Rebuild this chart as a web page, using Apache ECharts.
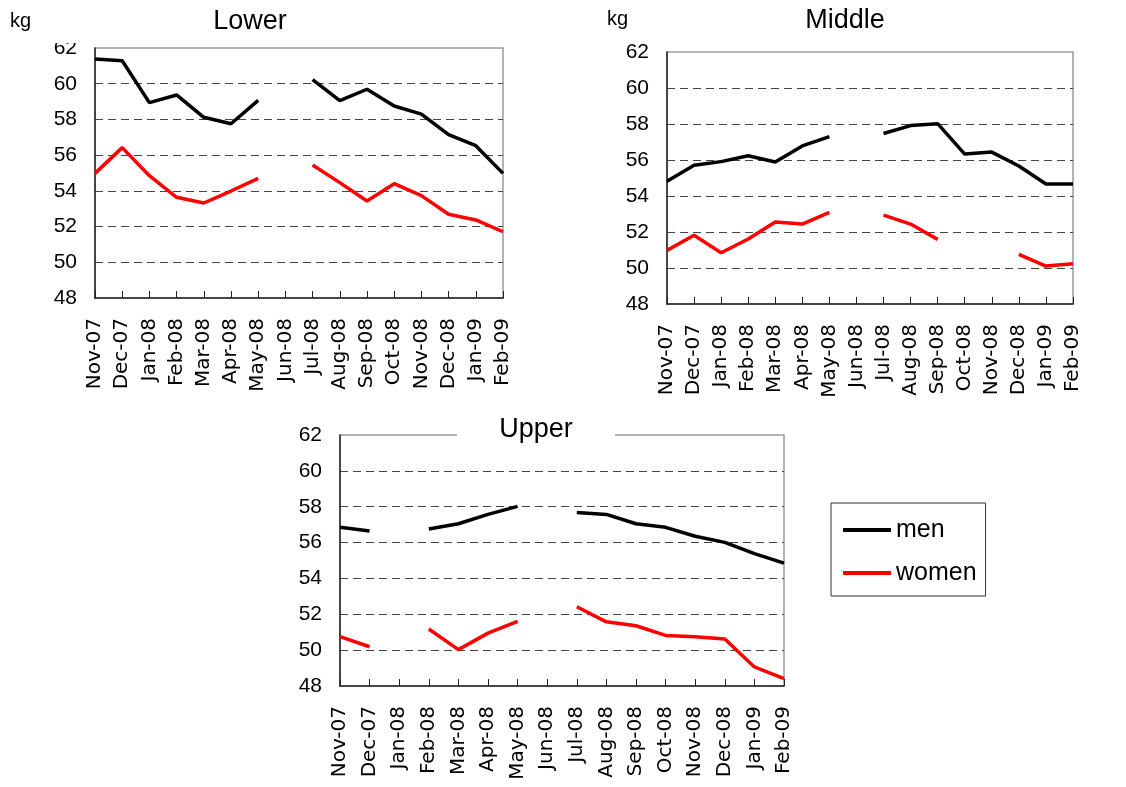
<!DOCTYPE html>
<html>
<head>
<meta charset="utf-8">
<script src="https://cdn.jsdelivr.net/npm/echarts@6/dist/echarts.min.js"></script>
<style>
  html, body { margin: 0; padding: 0; background: #fff; }
  #chart { width: 1126px; height: 787px; }
</style>
</head>
<body>
<div id="chart"></div>
<script>
const categories = ['Nov-07','Dec-07','Jan-08','Feb-08','Mar-08','Apr-08','May-08','Jun-08','Jul-08','Aug-08','Sep-08','Oct-08','Nov-08','Dec-08','Jan-09','Feb-09'];
const yMin = 48, yMax = 62, yStep = 2;
const panelTitles = ['Lower', 'Middle', 'Upper'];
const seriesNames = ['men', 'women'];

const lowerMen   = [61.38, 61.29, 58.94, 59.37, 58.12, 57.76, 59.07, null, 60.23, 59.05, 59.69, 58.75, 58.30, 57.15, 56.53, 54.98];
const lowerWomen = [54.98, 56.42, 54.85, 53.64, 53.32, 53.99, 54.70, null, 55.45, 54.46, 53.43, 54.40, 53.73, 52.69, 52.37, 51.71];

const middleMen   = [54.82, 55.71, 55.91, 56.24, 55.89, 56.78, 57.30, null, 57.47, 57.91, 58.02, 56.33, 56.44, 55.67, 54.67, 54.67];
const middleWomen = [50.98, 51.82, 50.85, 51.61, 52.56, 52.44, 53.09, null, 52.94, 52.44, 51.59, null, null, 50.76, 50.11, 50.24];

const upperMen   = [56.85, 56.64, null, 56.76, 57.05, 57.57, 58.02, null, 57.68, 57.57, 57.05, 56.85, 56.35, 56.01, 55.38, 54.85];
const upperWomen = [50.75, 50.19, null, 51.18, 50.03, 50.95, 51.60, null, 52.42, 51.58, 51.36, 50.82, 50.75, 50.62, 49.06, 48.41];

const panelData = [[lowerMen, lowerWomen], [middleMen, middleWomen], [upperMen, upperWomen]];
const colors = ['#000000', '#ff0000'];

const grids = [
  { left: 95,  top: 48,  width: 408, height: 250 },
  { left: 667, top: 52,  width: 406, height: 252 },
  { left: 340, top: 435, width: 444, height: 251 }
];

const chart = echarts.init(document.getElementById('chart'), null, { renderer: 'canvas' });

const option = {
  backgroundColor: '#ffffff',
  animation: false,
  grid: grids.map(g => Object.assign({ show: true, borderColor: '#9a9a9a', borderWidth: 1.5, backgroundColor: 'transparent' }, g)),
  xAxis: grids.map((g, i) => ({
    type: 'category',
    gridIndex: i,
    data: categories,
    boundaryGap: false,
    axisLine: { show: true, lineStyle: { color: '#222', width: 1.5 } },
    axisTick: { show: true, inside: true, length: 7, interval: 0, lineStyle: { color: '#222', width: 1 } },
    axisLabel: {
      interval: 0, rotate: 90, margin: 20,
      fontFamily: 'DejaVu Sans', fontSize: 20, color: '#000'
    },
    splitLine: { show: false }
  })),
  yAxis: grids.map((g, i) => ({
    type: 'value',
    gridIndex: i,
    min: yMin, max: yMax, interval: yStep,
    axisLine: { show: true, lineStyle: { color: '#222', width: 1.5 } },
    axisTick: { show: false },
    axisLabel: { margin: 18, fontFamily: 'Liberation Sans', fontSize: 21, color: '#000' },
    splitLine: { show: true, showMinLine: false, showMaxLine: false, lineStyle: { color: '#444', type: [8, 5], width: 1 } }
  })),
  legend: {
    data: seriesNames.map(n => ({ name: n, icon: 'rect' })),
    orient: 'vertical',
    left: 831, top: 503,
    padding: [13, 9, 9, 12],
    itemWidth: 48, itemHeight: 4, itemGap: 15,
    borderColor: '#333', borderWidth: 1,
    textStyle: { fontFamily: 'Liberation Sans', fontSize: 25, lineHeight: 28, color: '#000' }
  },
  series: [],
  graphic: [
    { type: 'rect', z: 100, shape: { x: 55, y: 0, width: 37, height: 43 }, style: { fill: '#fff' } },
    { type: 'text', z: 101, left: 10, top: 11, style: { text: 'kg', font: '20px "Liberation Sans"', fill: '#000' } },
    { type: 'text', z: 101, left: 607, top: 9, style: { text: 'kg', font: '20px "Liberation Sans"', fill: '#000' } },
    { type: 'text', z: 101, x: 250, y: 22, style: { text: panelTitles[0], font: '27px "Liberation Sans"', fill: '#000', textAlign: 'center', textVerticalAlign: 'middle' } },
    { type: 'text', z: 101, x: 845, y: 21, style: { text: panelTitles[1], font: '27px "Liberation Sans"', fill: '#000', textAlign: 'center', textVerticalAlign: 'middle' } },
    { type: 'rect', z: 100, shape: { x: 457, y: 428, width: 158, height: 14 }, style: { fill: '#fff' } },
    { type: 'text', z: 101, x: 536, y: 430, style: { text: panelTitles[2], font: '27px "Liberation Sans"', fill: '#000', textAlign: 'center', textVerticalAlign: 'middle' } }
  ]
};

panelData.forEach((pair, i) => {
  pair.forEach((vals, j) => {
    option.series.push({
      name: seriesNames[j],
      type: 'line',
      xAxisIndex: i, yAxisIndex: i,
      data: vals,
      symbol: 'none',
      connectNulls: false,
      color: colors[j],
      itemStyle: { color: colors[j] },
      lineStyle: { color: colors[j], width: 3.5 },
      z: 3
    });
  });
});

chart.setOption(option);
</script>
</body>
</html>
